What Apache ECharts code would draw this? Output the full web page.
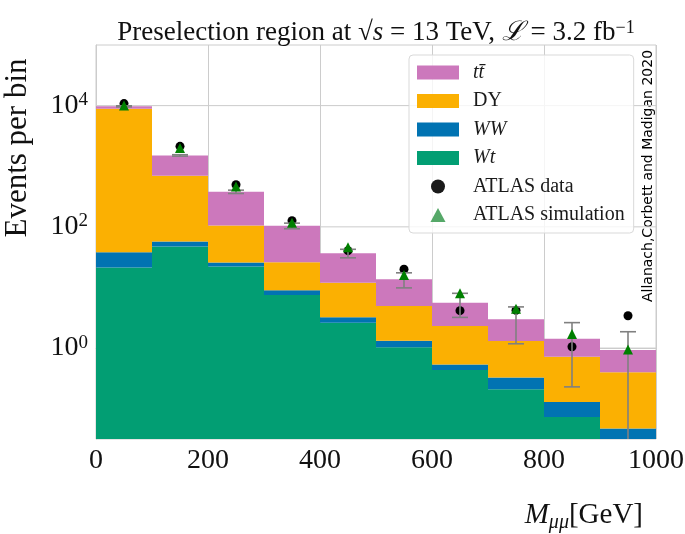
<!DOCTYPE html>
<html><head><meta charset="utf-8">
<script src="https://cdn.jsdelivr.net/npm/echarts@6.0.0/dist/echarts.min.js"></script>
<style>html,body{margin:0;padding:0;background:#fff}#c{width:685px;height:534px}</style>
</head><body><div id="c"></div>
<script>
// ---- data (events per 100 GeV bin) ----
const binEdges = [0, 100, 200, 300, 400, 500, 600, 700, 800, 900, 1000];
const wt    = [21.3, 47.3, 22.1, 7.5, 2.62, 1.03, 0.433, 0.21, 0.073, 0];
const ww    = [16.9, 9.8, 3.6, 1.48, 0.60, 0.29, 0.104, 0.118, 0.056, 0.047];
const dy    = [8880, 640, 79.3, 17.1, 8.7, 3.62, 1.77, 0.98, 0.59, 0.353];
const ttbar = [810, 810, 274, 78, 24.8, 8.7, 3.3, 1.67, 0.71, 0.53];
const atlasData = [10800, 2130, 494, 126, 40.5, 20.0, 4.14, 4.2, 1.05, 3.42];
const atlasSim  = [10000, 1990, 464, 117, 46.2, 16.1, 8.0, 4.45, 1.70, 0.95];
const mcErr     = [200, 40, 24, 11, 5.9, 3.8, 2.4, 1.8, 1.2, 0.93];
const xTicks = [0, 200, 400, 600, 800, 1000];
const yTickExps = [0, 2, 4];
const yMinExp = -1.5, yMaxExp = 5;

const SERIF = "'Liberation Serif', 'DejaVu Serif', serif";
const lg = v => v > 0 ? Math.log10(v) : -10;
const centers = binEdges.slice(0, -1).map((e, i) => (e + binEdges[i + 1]) / 2);

function rectItem(params, api) {
  const p0 = api.coord([api.value(0), api.value(3)]);
  const p1 = api.coord([api.value(1), api.value(2)]);
  return { type: 'rect', shape: { x: p0[0], y: p0[1], width: p1[0] - p0[0], height: p1[1] - p0[1] },
           style: { fill: api.visual('color') } };
}

const comps = [
  { name: 'Wt', vals: wt, color: '#029e73' },
  { name: 'WW', vals: ww, color: '#0173b2' },
  { name: 'DY', vals: dy, color: '#fbb002' },
  { name: 't t\u0304', vals: ttbar, color: '#cc78bc' }
];
const series = [];
// horizontal grid lines at decades 10^0, 10^2, 10^4
series.push({
  type: 'custom', name: 'grid', silent: true, z: 0,
  data: yTickExps.map(e => [e]),
  encode: { y: 0 },
  renderItem: (params, api) => {
    const a = api.coord([binEdges[0], api.value(0)]);
    const b = api.coord([binEdges[binEdges.length - 1], api.value(0)]);
    return { type: 'line', shape: { x1: a[0], y1: a[1], x2: b[0], y2: b[1] }, style: { stroke: '#cccccc', lineWidth: 1 } };
  }
});
const cum = new Array(centers.length).fill(0);
comps.forEach(c => {
  const data = c.vals.map((v, i) => {
    const lo = cum[i]; const hi = cum[i] + v; cum[i] = hi;
    return [binEdges[i], binEdges[i + 1], lg(lo), lg(hi)];
  });
  series.push({ type: 'custom', name: c.name, renderItem: rectItem, data: data, clip: true, z: 2,
    encode: { x: [0, 1], y: [2, 3] }, itemStyle: { color: c.color } });
});
const totals = cum.slice();

series.push({
  type: 'scatter', name: 'ATLAS data', symbol: 'circle', symbolSize: 9, z: 3,
  itemStyle: { color: '#000000', opacity: 1 },
  data: atlasData.map((v, i) => [centers[i], lg(v)])
});
series.push({
  type: 'custom', name: 'err', silent: true, z: 4, clip: true,
  data: totals.map((t, i) => [centers[i], lg(t - mcErr[i]), lg(t + mcErr[i])]),
  encode: { x: 0, y: [1, 2] },
  renderItem: (params, api) => {
    const lo = api.coord([api.value(0), api.value(1)]);
    const hi = api.coord([api.value(0), api.value(2)]);
    const w = 8;
    const st = { stroke: '#808080', lineWidth: 1.6 };
    return { type: 'group', children: [
      { type: 'line', shape: { x1: lo[0], y1: lo[1], x2: hi[0], y2: hi[1] }, style: st },
      { type: 'line', shape: { x1: lo[0] - w, y1: lo[1], x2: lo[0] + w, y2: lo[1] }, style: st },
      { type: 'line', shape: { x1: hi[0] - w, y1: hi[1], x2: hi[0] + w, y2: hi[1] }, style: st }
    ] };
  }
});
series.push({
  type: 'scatter', name: 'ATLAS simulation', symbol: 'triangle', symbolSize: 10, z: 5,
  itemStyle: { color: '#008000', opacity: 1 },
  data: atlasSim.map((v, i) => [centers[i], lg(v)])
});

const legendRich = {
  r: { fontFamily: SERIF, fontSize: 20, color: '#1a1a1a' },
  i: { fontFamily: SERIF, fontSize: 20, fontStyle: 'italic', color: '#1a1a1a' }
};

const chart = echarts.init(document.getElementById('c'), null, { renderer: 'canvas' });
chart.setOption({
  animation: false,
  backgroundColor: '#ffffff',
  grid: { left: 96, right: 29, top: 45, bottom: 95, show: true, borderColor: '#cccccc', borderWidth: 1,
    backgroundColor: 'transparent', containLabel: false, outerBoundsMode: 'none' },
  xAxis: {
    type: 'value', min: xTicks[0], max: xTicks[xTicks.length - 1], interval: xTicks[1] - xTicks[0],
    axisLine: { show: true, lineStyle: { color: '#cccccc' } }, axisTick: { show: false },
    splitLine: { show: true, lineStyle: { color: '#cccccc', width: 1 } },
    axisLabel: { fontFamily: SERIF, fontSize: 28, color: '#111', margin: 8, formatter: v => String(v) }
  },
  yAxis: {
    type: 'value', min: yMinExp, max: yMaxExp, interval: 0.5,
    axisLine: { show: true, lineStyle: { color: '#cccccc' } }, axisTick: { show: false },
    splitLine: { show: false },
    axisLabel: {
      margin: 8,
      formatter: v => yTickExps.some(e => Math.abs(e - v) < 1e-6) ? '{b|10}{s|' + Math.round(v) + '}' : '',
      rich: {
        b: { fontFamily: SERIF, fontSize: 28, color: '#111', lineHeight: 30 },
        s: { fontFamily: SERIF, fontSize: 19, color: '#111', verticalAlign: 'top', lineHeight: 18 }
      }
    }
  },
  legend: {
    orient: 'vertical', left: 409, top: 55, padding: [7.5, 9, 8, 8],
    itemWidth: 42, itemHeight: 14, itemGap: 8.5, selectedMode: false, symbolKeepAspect: true,
    backgroundColor: 'rgba(255,255,255,0.8)', borderColor: '#d9d9d9', borderWidth: 1, borderRadius: 4,
    data: [
      { name: 't t\u0304', icon: 'rect' },
      { name: 'DY', icon: 'rect' },
      { name: 'WW', icon: 'rect' },
      { name: 'Wt', icon: 'rect' },
      { name: 'ATLAS data', icon: 'circle', itemStyle: { color: '#1a1a1a', opacity: 1 } },
      { name: 'ATLAS simulation', icon: 'path://M7,0 L14,13 L0,13 Z', itemStyle: { color: '#55a868', opacity: 1 } }
    ],
    formatter: name => {
      if (name === 't t\u0304') return '{i|tt\u0304}';
      if (name === 'WW' || name === 'Wt') return '{i|' + name + '}';
      return '{r|' + name + '}';
    },
    textStyle: { fontFamily: SERIF, fontSize: 20, lineHeight: 20, color: '#1a1a1a', padding: [0, 0, 0, 9], rich: legendRich }
  },
  graphic: [
    { type: 'text', x: 376, y: 33, silent: true,
      style: { text: '{r|Preselection region at }{r|\u221A}{i|s}{r| = 13 TeV, }{i|\u2112}{r| = 3.2 fb}{s|\u22121}',
        align: 'center', verticalAlign: 'middle', textAlign: 'center', textVerticalAlign: 'middle',
        rich: {
          r: { fontFamily: SERIF, fontSize: 27, fill: '#111', lineHeight: 28 },
          i: { fontFamily: SERIF, fontSize: 27, fontStyle: 'italic', fill: '#111', lineHeight: 28 },
          s: { fontFamily: SERIF, fontSize: 18, fill: '#111', verticalAlign: 'top', lineHeight: 14 }
        } } },
    { type: 'text', x: 18, y: 148, rotation: Math.PI / 2, silent: true,
      style: { text: 'Events per bin', font: '31px ' + SERIF, fill: '#111',
        align: 'center', verticalAlign: 'middle', textAlign: 'center', textVerticalAlign: 'middle' } },
    { type: 'text', x: 643, y: 515, silent: true,
      style: { text: '{i|M}{sub|\u03BC\u03BC}{r|[GeV]}',
        align: 'right', verticalAlign: 'middle', textAlign: 'right', textVerticalAlign: 'middle',
        rich: {
          r: { fontFamily: SERIF, fontSize: 29, fill: '#111', lineHeight: 36 },
          i: { fontFamily: SERIF, fontSize: 29, fontStyle: 'italic', fill: '#111', lineHeight: 36 },
          sub: { fontFamily: SERIF, fontSize: 20, fontStyle: 'italic', fill: '#111', verticalAlign: 'bottom', lineHeight: 20 }
        } } },
    { type: 'text', x: 648, y: 176, rotation: Math.PI / 2, silent: true,
      style: { text: 'Allanach,Corbett and Madigan 2020', font: "14px 'DejaVu Sans', sans-serif", fill: '#000',
        align: 'center', verticalAlign: 'middle', textAlign: 'center', textVerticalAlign: 'middle' } }
  ],
  series: series
});
</script>
</body></html>
